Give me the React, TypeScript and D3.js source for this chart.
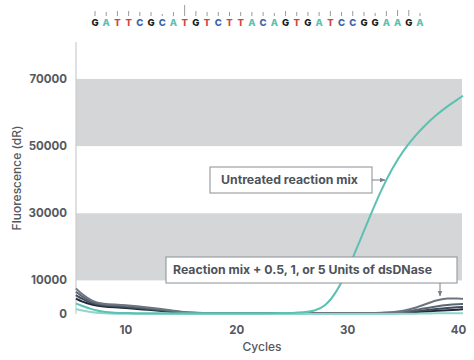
import React from "react";
import * as d3 from "d3";

const cycles = [5.5, 6, 7, 8, 9, 10, 11, 12, 13, 14, 15, 16, 17, 18, 19, 20, 21, 22, 23, 24, 25, 26, 27, 28, 29, 30, 31, 32, 33, 34, 35, 36, 37, 38, 39, 40, 40.4];

const untreated = [3100, 2500, 1300, 600, 350, 280, 250, 250, 250, 250, 250, 250, 250, 250, 250, 250, 250, 250, 250, 260, 300, 450, 900, 2300, 6500, 13000, 21000, 29000, 36800, 43300, 48600, 52800, 56300, 59300, 61900, 64100, 65000];
const noTemplate = [1500, 1100, 500, 200, 100, 50, 0, 0, 0, 0, 0, 0, 0, 0, 0, 0, 0, 0, 0, 0, 0, 0, 0, 0, 0, 0, 0, 0, 0, 0, 50, 100, 150, 200, 200, 250, 250];
const dnase05 = [7600, 6000, 3600, 3000, 2800, 2600, 2300, 1950, 1550, 1100, 650, 400, 300, 300, 300, 300, 300, 300, 300, 300, 300, 300, 300, 300, 300, 300, 300, 300, 350, 500, 900, 1700, 2900, 4100, 4700, 4600, 4500];
const dnase1 = [6600, 5300, 3300, 2800, 2600, 2400, 2100, 1750, 1350, 950, 550, 350, 250, 250, 250, 250, 250, 250, 250, 250, 250, 250, 250, 250, 250, 250, 250, 250, 300, 400, 650, 1100, 1700, 2300, 2700, 2900, 2950];
const dnase5 = [5600, 4600, 3000, 2500, 2300, 2100, 1800, 1500, 1150, 800, 450, 250, 200, 200, 200, 200, 200, 200, 200, 200, 200, 200, 200, 200, 200, 200, 200, 200, 250, 300, 450, 750, 1150, 1500, 1800, 2000, 2100];
const dnaseCtrl = [4600, 3700, 2700, 2200, 2000, 1800, 1500, 1250, 950, 650, 350, 200, 150, 150, 150, 150, 150, 150, 150, 150, 150, 150, 150, 150, 150, 150, 150, 150, 200, 250, 350, 500, 700, 950, 1150, 1300, 1400];

const yTicks = [0, 10000, 30000, 50000, 70000];
const xTicks = [10, 20, 30, 40];
const bands = [[10000, 30000], [50000, 70000]];
const sequence = "GATTCGCATGTCTTACAGTGATCCGGAAGA".split("");
const peakHeights = [5, 4, 5, 5, 4, 4, 2, 4, 11, 5, 4, 4, 4, 4, 4, 4, 3, 5, 4, 4, 4, 5, 4, 5, 4, 3, 5, 6, 6, 3];

const baseColor: Record<string, string> = { G: "#1a1a1a", A: "#5cc0b2", T: "#d2453b", C: "#3b64a8" };

export default function App() {
  const x = d3.scaleLinear().domain([5.5, 40.4]).range([76, 463]);
  const y = d3.scaleLinear().domain([0, 81000]).range([314, 42]);
  const line = (vals: number[]) =>
    d3.line<number>().x((_, i) => x(cycles[i])).y((v) => y(v)).curve(d3.curveBasis)(vals) || "";
  const seqX = d3.scaleLinear().domain([0, sequence.length - 1]).range([95, 420]);
  const font = "Inter, 'Liberation Sans', sans-serif";
  const axisColor = "#55595e";
  const series = [
    { v: dnaseCtrl, c: "#1f2a3a" },
    { v: dnase5, c: "#3f4a5a" },
    { v: dnase1, c: "#5b6572" },
    { v: dnase05, c: "#6c7580" },
    { v: noTemplate, c: "#8fd6cc" },
    { v: untreated, c: "#5cc0b2" },
  ];
  return (
    <svg width={474} height={360} style={{ position: "absolute", left: 0, top: 0, background: "#fff" }} fontFamily={font}>
      <defs>
        <marker id="ah" viewBox="0 0 10 10" refX="9" refY="5" markerWidth="6" markerHeight="6" orient="auto">
          <path d="M0,1 L10,5 L0,9 z" fill="#7a8087" />
        </marker>
      </defs>
      {sequence.map((b, i) => (
        <g key={i}>
          <line x1={seqX(i)} x2={seqX(i)} y1={16} y2={16 - peakHeights[i]} stroke="#9a9a9a" strokeWidth={1} />
          <text x={seqX(i)} y={26} textAnchor="middle" fontSize={9.5} fontWeight={800} fill={baseColor[b]}>{b}</text>
        </g>
      ))}
      {bands.map(([a, b], i) => (
        <rect key={i} x={x(5.5)} width={462 - x(5.5)} y={y(b)} height={y(a) - y(b)} fill="#d4d6d7" />
      ))}
      <line x1={76} x2={76} y1={42} y2={314} stroke="#c9cbcd" strokeWidth={1.2} />
      {yTicks.map((t) => (
        <text key={t} x={67} y={y(t)} dy="0.35em" textAnchor="end" fontSize={11.5} fontWeight={700} fill={axisColor}>{t}</text>
      ))}
      {xTicks.map((t) => (
        <text key={t} x={x(t)} y={330} dy="0.35em" textAnchor="middle" fontSize={11.5} fontWeight={700} fill={axisColor}>{t}</text>
      ))}
      <text x={262} y={347} dy="0.35em" textAnchor="middle" fontSize={12} fontWeight={500} fill={axisColor}>Cycles</text>
      <text transform="translate(17,178) rotate(-90)" dy="0.35em" textAnchor="middle" fontSize={12} fontWeight={500} fill={axisColor}>Fluorescence (dR)</text>
      {series.map((s, i) => (
        <path key={i} d={line(s.v)} fill="none" stroke={s.c} strokeWidth={2} strokeLinejoin="round" />
      ))}
      <rect x={210} y={167} width={162} height={26} fill="#fff" stroke="#8a9096" strokeWidth={1} />
      <text x={221} y={180} dy="0.35em" fontSize={12} fontWeight={700} fill="#4d5359" textLength={137} lengthAdjust="spacingAndGlyphs">Untreated reaction mix</text>
      <line x1={372} x2={385} y1={180} y2={180} stroke="#7a8087" strokeWidth={1} markerEnd="url(#ah)" />
      <rect x={166} y={257} width={291} height={26} fill="#fff" stroke="#8a9096" strokeWidth={1} />
      <text x={173} y={270} dy="0.35em" fontSize={12} fontWeight={700} fill="#4d5359" textLength={259} lengthAdjust="spacingAndGlyphs">Reaction mix + 0.5, 1, or 5 Units of dsDNase</text>
      <line x1={440} x2={440} y1={283} y2={296} stroke="#7a8087" strokeWidth={1} markerEnd="url(#ah)" />
    </svg>
  );
}
